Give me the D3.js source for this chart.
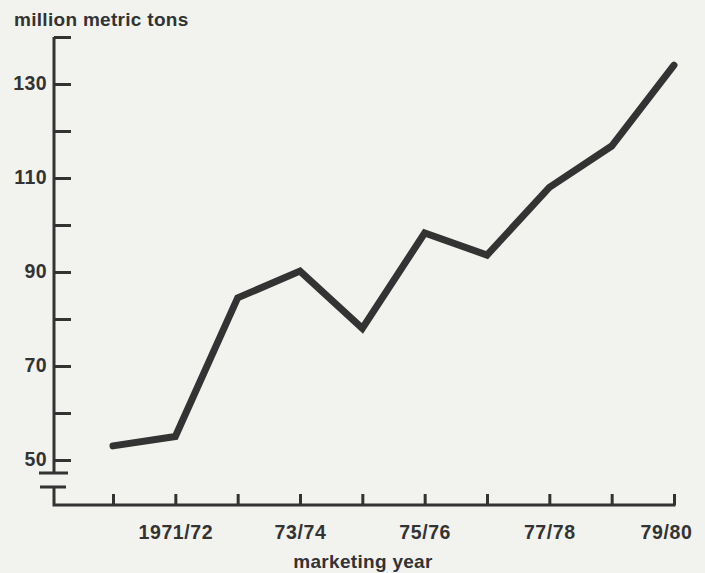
<!DOCTYPE html>
<html><head><meta charset="utf-8">
<script src="https://cdn.jsdelivr.net/npm/d3@7"></script>
<style>
html,body{margin:0;padding:0;background:#f2f2ef;}
svg{display:block;}
text{font-family:"Liberation Sans",Arial,Helvetica,sans-serif;font-weight:bold;fill:#333;}
</style></head>
<body>
<svg id="chart" width="705" height="573"></svg>
<script>
const years = ["1970/71","1971/72","72/73","73/74","74/75","75/76","76/77","77/78","78/79","79/80"];
const values = [53, 55, 84.5, 90.2, 78, 98.3, 93.6, 108, 116.8, 134];
const xLabels = ["","1971/72","","73/74","","75/76","","77/78","","79/80"];
const yTicks = [50,60,70,80,90,100,110,120,130,140];
const yLabels = [50,70,90,110,130];

const svg = d3.select("#chart");
const ink = "#333";
const axisX = 54, axisBottomY = 505;

const x = d3.scalePoint().domain(years).range([113, 674]);
const y = d3.scaleLinear().domain([50, 140]).range([460, 37]);

// Y axis ticks & labels
const yAxis = d3.axisLeft(y).tickValues(yTicks).tickSize(-17).tickPadding(7)
  .tickFormat(d => yLabels.includes(d) ? d : "");
const gy = svg.append("g").attr("transform", `translate(${axisX},0)`).call(yAxis);
gy.select(".domain").remove();
gy.selectAll(".tick line").attr("stroke", ink).attr("stroke-width", 3);
gy.selectAll(".tick text").attr("font-size", 19.5).attr("letter-spacing", "0.4px")
  .attr("font-family", null).attr("fill", ink).attr("dy", "0.3em");

// X axis ticks & labels
const xAxis = d3.axisBottom(x).tickSize(-11).tickPadding(20).tickFormat((d,i) => xLabels[i]);
const gx = svg.append("g").attr("transform", `translate(0,${axisBottomY})`).call(xAxis);
gx.select(".domain").remove();
gx.selectAll(".tick line").attr("stroke", ink).attr("stroke-width", 3);
gx.selectAll(".tick text").attr("font-size", 19.5).attr("letter-spacing", "0.6px")
  .attr("font-family", null).attr("fill", ink)
  .attr("dx", (d,i) => i === years.length - 1 ? -8 : 0);

// Axis lines with break
const axisPath = d3.path();
axisPath.moveTo(axisX, y(140)); axisPath.lineTo(axisX, 473);
axisPath.moveTo(axisX, 487); axisPath.lineTo(axisX, axisBottomY); axisPath.lineTo(x(years[years.length-1]) + 1.5, axisBottomY);
svg.append("path").attr("d", axisPath.toString()).attr("fill", "none")
  .attr("stroke", ink).attr("stroke-width", 3);
svg.append("line").attr("x1", 39).attr("x2", 68).attr("y1", 473).attr("y2", 473)
  .attr("stroke", ink).attr("stroke-width", 3);
svg.append("line").attr("x1", 40).attr("x2", 66).attr("y1", 487).attr("y2", 487)
  .attr("stroke", ink).attr("stroke-width", 3);

// Data line
const line = d3.line().x((d,i) => x(years[i])).y(d => y(d));
svg.append("path").datum(values).attr("d", line).attr("fill", "none")
  .attr("stroke", ink).attr("stroke-width", 7).attr("stroke-linejoin", "miter")
  .attr("stroke-linecap", "round");

// Titles
svg.append("text").attr("x", 14).attr("y", 26).attr("font-size", 19)
  .attr("letter-spacing", "0.3px").text("million metric tons");
svg.append("text").attr("x", 363).attr("y", 568).attr("text-anchor", "middle")
  .attr("font-size", 19).attr("letter-spacing", "0.3px").text("marketing year");
</script>
</body></html>
